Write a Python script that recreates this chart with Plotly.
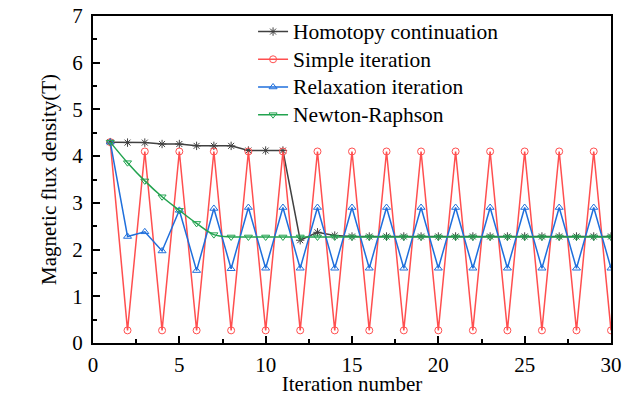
import plotly.graph_objects as go

iterations = list(range(1, 31))

homotopy = [4.30, 4.29, 4.29, 4.26, 4.26, 4.22, 4.22, 4.22, 4.12, 4.12,
            4.12, 2.20, 2.37, 2.30, 2.28, 2.28, 2.28, 2.28, 2.28, 2.28,
            2.28, 2.28, 2.28, 2.28, 2.28, 2.28, 2.28, 2.28, 2.28, 2.28]

simple = [4.30, 0.27, 4.10, 0.27, 4.10, 0.27, 4.10, 0.27, 4.10, 0.27,
          4.10, 0.27, 4.10, 0.27, 4.10, 0.27, 4.10, 0.27, 4.10, 0.27,
          4.10, 0.27, 4.10, 0.27, 4.10, 0.27, 4.10, 0.27, 4.10, 0.27]

relaxation = [4.30, 2.28, 2.38, 1.97, 2.84, 1.55, 2.88, 1.59, 2.90, 1.60,
              2.90, 1.60, 2.90, 1.60, 2.90, 1.60, 2.90, 1.60, 2.90, 1.60,
              2.90, 1.60, 2.90, 1.60, 2.90, 1.60, 2.90, 1.60, 2.90, 1.60]

newton = [4.30, 3.86, 3.47, 3.13, 2.84, 2.56, 2.32, 2.27, 2.27, 2.27,
          2.27, 2.27, 2.27, 2.27, 2.27, 2.27, 2.27, 2.27, 2.27, 2.27,
          2.27, 2.27, 2.27, 2.27, 2.27, 2.27, 2.27, 2.27, 2.27, 2.27]

names = ["Homotopy continuation", "Simple iteration", "Relaxation iteration", "Newton-Raphson"]
series = [homotopy, simple, relaxation, newton]
colors = ["#404040", "#ff4f4f", "#1f6fdc", "#22a34f"]
symbols = ["asterisk-open", "circle-open", "triangle-up-open", "triangle-down-open"]
shapes = ["linear", "linear", "linear", "spline"]

FONT = "'Liberation Serif', 'Times New Roman', Times, serif"

fig = go.Figure()
for name, ys, c, s, sh in zip(names, series, colors, symbols, shapes):
    fig.add_trace(go.Scatter(
        x=iterations, y=ys,
        name="<span style='font-size:21.5px'>" + name + "</span>",
        mode="lines+markers",
        line=dict(color=c, width=1.5, shape=sh),
        marker=dict(symbol=s, size=7, color=c, line=dict(color=c, width=1)),
    ))

axis_common = dict(
    showline=True, linecolor="black", linewidth=2, mirror=True,
    ticks="inside", ticklen=7, tickwidth=2, tickcolor="black",
    showgrid=False, zeroline=False,
    tickfont=dict(family=FONT, size=21, color="black"),
)

fig.update_xaxes(
    range=[0, 30], tick0=0, dtick=5,
    minor=dict(ticks="inside", ticklen=4, tickwidth=2, tickcolor="black", dtick=2.5),
    title=dict(text="Iteration number", font=dict(family=FONT, size=21, color="black"), standoff=2),
    ticklabelstandoff=2,
    automargin=False,
    **axis_common,
)
fig.update_yaxes(
    range=[0, 7], tick0=0, dtick=1,
    minor=dict(ticks="inside", ticklen=4, tickwidth=2, tickcolor="black", dtick=0.5),
    title=dict(text="Magnetic flux density(T)", font=dict(family=FONT, size=21, color="black"), standoff=10),
    ticklabelstandoff=4,
    automargin=False,
    **axis_common,
)

fig.update_layout(
    width=623, height=396,
    margin=dict(l=93, r=12, t=16, b=53),
    paper_bgcolor="white", plot_bgcolor="white",
    font=dict(family=FONT, size=20, color="black"),
    legend=dict(x=0.309, y=1.01, xanchor="left", yanchor="top",
                bgcolor="rgba(0,0,0,0)", borderwidth=0,
                font=dict(family=FONT, size=19, color="black"),
                itemwidth=30, tracegroupgap=0),
    showlegend=True,
)

fig.write_html("out.html", config={"displayModeBar": False},
               post_script="document.body.style.margin='0';document.body.style.overflow='hidden';")
